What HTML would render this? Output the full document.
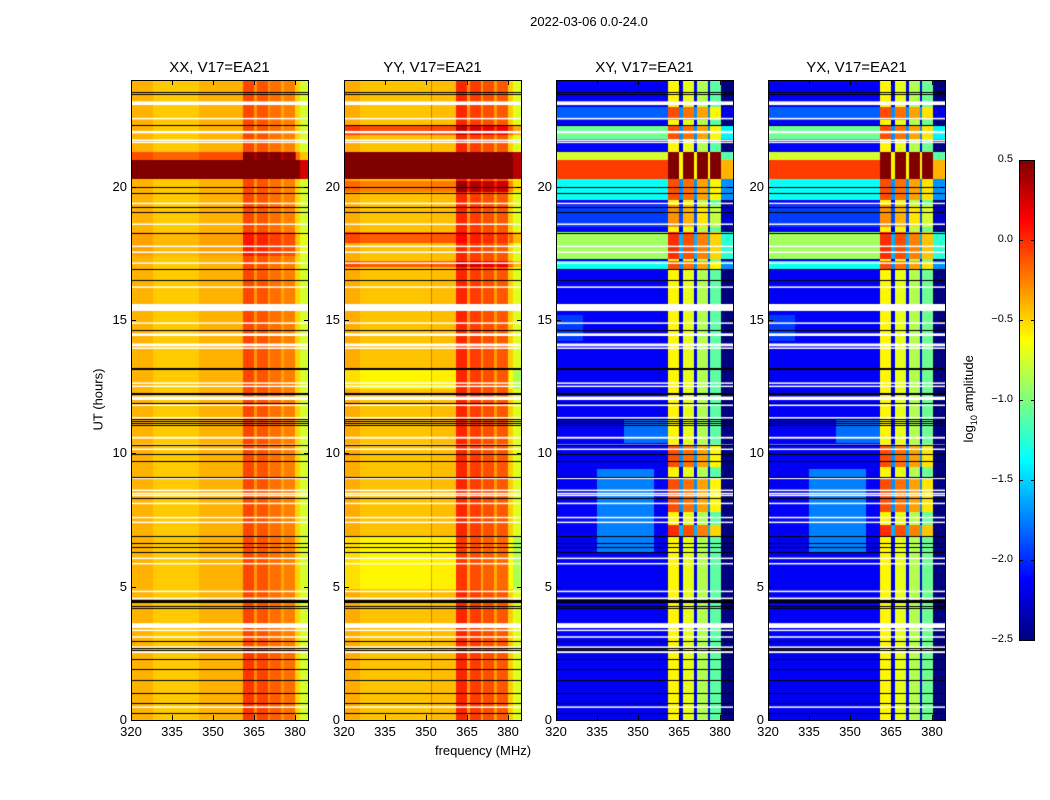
<!DOCTYPE html>
<html><head><meta charset="utf-8">
<style>
body{margin:0;background:#fff;width:1050px;height:800px;position:relative;overflow:hidden;font-family:"Liberation Sans",sans-serif;color:#000}
.abs{position:absolute}
canvas{position:absolute}
.frame{position:absolute;border:1px solid #000;box-sizing:border-box}
.tl{position:absolute;font-size:13px;white-space:nowrap}
.ptitle{position:absolute;font-size:15px;width:177px;text-align:center}
.tick{position:absolute;background:#000}
</style></head><body>
<div class="abs" style="left:489px;top:14px;width:200px;text-align:center;font-size:13px">2022-03-06 0.0-24.0</div>
<div class="abs" style="left:48px;top:392px;width:100px;text-align:center;font-size:13px;transform:rotate(-90deg)">UT (hours)</div>
<div class="abs" style="left:383px;top:743px;width:200px;text-align:center;font-size:13px">frequency (MHz)</div>
<div class="abs" style="left:900px;top:390px;width:140px;text-align:center;font-size:13px;transform:rotate(-90deg)">log<sub style="font-size:9px">10</sub> amplitude</div>
<div id="root"></div>
<script>
const panelTitles=["XX, V17=EA21","YY, V17=EA21","XY, V17=EA21","YX, V17=EA21"];
const xTicks=[320,335,350,365,380];
const yTicks=[0,5,10,15,20];
const cbTicks=[0.5,0.0,-0.5,-1.0,-1.5,-2.0,-2.5];
// frequency profiles: [f0,f1,log amp]
const profXX=[[320,328,-0.40],[328,345,-0.47],[345,361,-0.40],[361,365,-0.08],[365,366,-0.32],[366,370,-0.12],[370,371,-0.32],[371,375,-0.2],[375,376,-0.36],[376,380,-0.25],[380,382,-0.5],[382,385,-0.75]];
const profYY=[[320,326,-0.38],[326,351.8,-0.45],[351.8,352.3,-0.15],[352.3,361,-0.43],[361,365,0.02],[365,366,-0.33],[366,370,-0.05],[370,371,-0.33],[371,375,-0.1],[375,376,-0.33],[376,380,-0.13],[380,382,-0.48],[382,385,-0.72]];
const profXY=[[320,361,-2.15],[361,365,-0.6],[365,366.5,-2.2],[366.5,370.5,-0.7],[370.5,371.5,-2.2],[371.5,375.5,-0.85],[375.5,376.5,-2.2],[376.5,380.5,-1.1],[380.5,385,-2.5]];
const profYX=[[320,361,-2.15],[361,365,-0.6],[365,366.5,-2.2],[366.5,370.5,-0.7],[370.5,371.5,-2.2],[371.5,375.5,-0.85],[375.5,376.5,-2.2],[376.5,380.5,-1.05],[380.5,385,-2.5]];
// time blocks: [h0,h1,background add,band add]
const blkXX=[[20.3,21.0,1.0,1.0],[21.0,21.3,0.3,0.7],[17.4,18.3,0.05,0.15],[0,2.6,0,0.05]];
const blkYY=[[20.3,21.3,1.05,1.0],[19.8,20.2,0.2,0.4],[21.95,22.3,0.35,0.3],[17.9,18.3,0.3,0.1],[17.0,17.2,0.3,0.3],[12.4,13.2,-0.15,0],[4.9,6.9,-0.15,-0.05]];
const blkXY=[[20.3,21.0,2.1,1.6],[21.0,21.3,1.4,1.6],[19.5,20.3,0.8,0.5],[21.8,22.3,1.1,0.5],[22.5,23.0,0.3,0.5],[17.3,18.3,1.25,0.6],[16.9,17.2,0.8,0.5],[18.5,19.3,0.2,0.3],[9.5,10.3,0.0,0.5],[7.8,9.1,0.0,0.5],[6.9,7.3,0,0.6]];
const blkYX=[[20.3,21.0,2.1,1.6],[21.0,21.3,1.4,1.6],[19.5,20.3,0.8,0.5],[21.8,22.3,1.1,0.5],[22.5,23.0,0.3,0.5],[17.3,18.3,1.25,0.6],[16.9,17.2,0.8,0.5],[18.5,19.3,0.2,0.3],[9.5,10.3,0.0,0.5],[7.8,9.1,0.0,0.5],[6.9,7.3,0,0.6]];
// patches: [h0,h1,f0,f1,add]
const patXX=[];
const patYY=[];
const patXY=[[6.3,9.4,335,356,0.4],[10.4,11.3,345,361,0.35],[14.2,15.2,320,330,0.2]];
const patYX=[[6.3,9.4,335,356,0.4],[10.4,11.3,345,361,0.35],[14.2,15.2,320,330,0.2]];
// flagged (white) rows [h0,h1]
const whiteRows=[[23.06,23.2],[22.54,22.58],[22.0,22.09],[21.74,21.77],[21.66,21.69],[19.36,19.4],[18.58,18.62],[17.75,17.79],[17.53,17.57],[17.12,17.16],[16.22,16.26],[15.34,15.6],[14.87,14.91],[14.4,14.5],[14.08,14.12],[14.04,14.07],[13.93,13.97],[12.62,12.66],[12.5,12.54],[12.0,12.13],[11.79,11.83],[11.32,11.36],[10.55,10.62],[10.29,10.33],[10.14,10.18],[9.05,9.09],[8.6,8.64],[8.48,8.52],[8.41,8.45],[8.11,8.15],[7.58,7.62],[7.4,7.44],[6.05,6.09],[5.85,5.89],[4.81,4.85],[4.55,4.59],[3.45,3.63],[3.35,3.39],[3.1,3.14],[2.72,2.76],[2.51,2.58],[0.47,0.51]];
// black lines (hours)
const blackLines=[23.56,23.47,22.3,20.0,19.75,19.24,19.22,19.05,18.26,16.9,16.5,14.62,13.2,13.18,12.26,12.22,11.9,11.3,11.22,11.14,11.06,10.31,9.97,9.7,9.12,8.32,6.9,6.63,6.48,6.31,4.5,4.46,4.42,4.27,4.2,2.96,2.7,2.62,2.29,1.91,1.5,1.02,0.64,0.27];

const panels=[[profXX,blkXX,patXX],[profYY,blkYY,patYY],[profXY,blkXY,patXY],[profYX,blkYX,patYX]];
const lefts=[131,344,556,768], TOP=80, W=177, H=640;
const VMIN=-2.5, VMAX=0.5;
const fx=f=>(f-320)*2.733;
const hy=h=>(24-h)*H/24;
function jet(v){let t=(v-VMIN)/(VMAX-VMIN);t=Math.max(0,Math.min(1,t));
 const c=x=>Math.round(255*Math.max(0,Math.min(1,x)));
 return [c(1.5-Math.abs(4*t-3)),c(1.5-Math.abs(4*t-2)),c(1.5-Math.abs(4*t-1))];}
const root=document.getElementById('root');
function mk(tag,cls,style,txt){const e=document.createElement(tag);if(cls)e.className=cls;e.style.cssText=style;if(txt!==undefined)e.textContent=txt;root.appendChild(e);return e;}
panels.forEach((pd,pi)=>{
 const [prof,blk,pat]=pd, L=lefts[pi];
 const cv=mk('canvas','',`left:${L}px;top:${TOP}px`);
 
 
 cv.width=W;cv.height=H;const ctx=cv.getContext('2d');const img=ctx.createImageData(W,H);
 for(let py=0;py<H;py++){const h=24-(py+0.5)*24/H;
  for(let px=0;px<W;px++){const f=320+(px+0.5)/2.733;
   let v=-2.5;for(const s of prof){if(f>=s[0]&&f<s[1]){v=s[2];break;}}
   const band=f>=361&&f<380.5;
   for(const b of blk){if(h>=b[0]&&h<b[1]){v+=band?b[3]:b[2];}}
   for(const p of pat){if(h>=p[0]&&h<p[1]&&f>=p[2]&&f<p[3])v+=p[4];}
   const c=jet(v);const i=(py*W+px)*4;img.data[i]=c[0];img.data[i+1]=c[1];img.data[i+2]=c[2];img.data[i+3]=255;}}
 ctx.putImageData(img,0,0);
 ctx.fillStyle='#fff';
 for(const w of whiteRows){const y1=hy(w[1]),y0=hy(w[0]);ctx.fillRect(0,y1,W,Math.max(1.5,y0-y1));}
 ctx.fillStyle='#000';
 for(const b of blackLines){ctx.fillRect(0,Math.round(hy(b)),W,1);}
 const fr=mk('div','frame',`left:${L}px;top:${TOP}px;width:${W+1}px;height:${H+1}px`);
 
 
 const t=mk('div','ptitle',`left:${L}px;top:59px`,panelTitles[pi]);
 
 
 xTicks.forEach(f=>{const x=L+fx(f);
  mk('div','tick',`left:${x}px;top:${TOP+H-5}px;width:1px;height:5px`);
  mk('div','tick',`left:${x}px;top:${TOP}px;width:1px;height:5px`);
  const l=mk('div','tl',`left:${x-15}px;top:${TOP+H+4}px;width:30px;text-align:center`,String(f));
  
  });
 yTicks.forEach(h=>{const y=TOP+hy(h);
  mk('div','tick',`left:${L}px;top:${y}px;width:5px;height:1px`);
  mk('div','tick',`left:${L+W-4}px;top:${y}px;width:5px;height:1px`);
  const l=mk('div','tl',`left:${L-34}px;top:${y-8}px;width:30px;text-align:right`,String(h));
  
  });
});
// colorbar
const cb=mk('canvas','',`left:1019px;top:160px`);


cb.width=15;cb.height=480;{const c=cb.getContext('2d');for(let y=0;y<480;y++){const v=VMAX-(y+0.5)/480*(VMAX-VMIN);const k=jet(v);c.fillStyle=`rgb(${k[0]},${k[1]},${k[2]})`;c.fillRect(0,y,15,1);}}
mk('div','frame','left:1019px;top:160px;width:16px;height:481px');
cbTicks.forEach(v=>{const y=160+(VMAX-v)/(VMAX-VMIN)*480;
 mk('div','tick',`left:1019px;top:${y}px;width:4px;height:1px`);
 mk('div','tick',`left:1031px;top:${y}px;width:4px;height:1px`);
 const l=mk('div','tl',`left:963px;top:${y-7}px;width:50px;text-align:right;font-size:11px`,(v<0?'\u2212':'')+Math.abs(v).toFixed(1));
 
 });
</script>
</body></html>
